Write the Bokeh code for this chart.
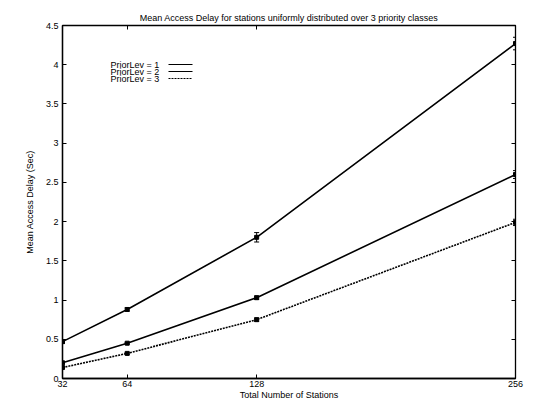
from bokeh.plotting import figure
from bokeh.models import (Range1d, FixedTicker, LinearAxis, Whisker, ColumnDataSource,
                          Label, Arrow, TeeHead)
from bokeh.embed import file_html
from bokeh.resources import INLINE

stations = [32, 64, 128, 256]
prio1 = [0.47, 0.88, 1.80, 4.27]
prio2 = [0.20, 0.45, 1.03, 2.60]
prio3 = [0.14, 0.32, 0.75, 1.99]
err1 = [0.02, 0.02, 0.06, 0.08]
err2 = [0.01, 0.01, 0.02, 0.05]
err3 = [0.01, 0.01, 0.02, 0.04]
series_labels = ["PriorLev = 1", "PriorLev = 2", "PriorLev = 3"]
y_ticks = [0, 0.5, 1, 1.5, 2, 2.5, 3, 3.5, 4, 4.5]

FONT = "Liberation Sans"

p = figure(width=549, height=407, output_backend="svg", toolbar_location=None,
           x_range=Range1d(32, 256), y_range=Range1d(0, 4.5),
           min_border_left=62, min_border_right=34, min_border_top=25, min_border_bottom=29,
           title="Mean Access Delay for stations uniformly distributed over 3 priority classes")
p.title.align = "center"
p.title.text_font = FONT
p.title.text_font_size = "9px"
p.title.text_font_style = "normal"
p.title.text_color = "black"
p.title.standoff = 5
p.title.offset = 0
p.grid.visible = False
p.outline_line_color = "black"
p.outline_line_width = 1.3
p.background_fill_color = "white"
p.border_fill_color = "white"

for ax in (p.xaxis[0], p.yaxis[0]):
    ax.major_label_text_font = FONT
    ax.major_label_text_font_size = "9px"
    ax.major_label_text_color = "black"
    ax.axis_label_text_font = FONT
    ax.axis_label_text_font_size = "9px"
    ax.axis_label_text_font_style = "normal"
    ax.axis_label_text_color = "black"
    ax.major_tick_in = 4
    ax.major_tick_out = 0
    ax.minor_tick_in = 0
    ax.minor_tick_out = 0
    ax.axis_line_color = "black"
    ax.axis_line_width = 1.3

p.xaxis.ticker = FixedTicker(ticks=stations)
p.yaxis.ticker = FixedTicker(ticks=y_ticks)
p.yaxis.major_label_overrides = {4.5: "4.5", 4: "4", 3.5: "3.5", 3: "3", 2.5: "2.5", 2: "2",
                                 1.5: "1.5", 1: "1", 0.5: "0.5", 0: "0"}
p.xaxis.axis_label = "Total Number of Stations"
p.yaxis.axis_label = "Mean Access Delay (Sec)"
p.xaxis.axis_label_standoff = 0
p.yaxis.axis_label_standoff = 8
p.xaxis.major_label_standoff = 2
p.yaxis.major_label_standoff = 4

# mirrored ticks (no labels)
top = LinearAxis(ticker=FixedTicker(ticks=stations),
                 major_label_overrides={t: "" for t in stations},
                 major_tick_in=4, major_tick_out=0, minor_tick_out=0, minor_tick_in=0,
                 axis_line_color=None)
right = LinearAxis(ticker=FixedTicker(ticks=y_ticks),
                   major_label_overrides={t: "" for t in y_ticks},
                   major_tick_in=4, major_tick_out=0, minor_tick_out=0, minor_tick_in=0,
                   axis_line_color=None)
p.add_layout(top, "above")
p.add_layout(right, "right")

series = [(prio1, err1, "solid", "square"), (prio2, err2, "solid", "square"),
          (prio3, err3, "2 1", "square")]
for vals, err, dash, mk in series:
    src = ColumnDataSource(dict(x=stations, y=vals,
                                lo=[v - e for v, e in zip(vals, err)],
                                hi=[v + e for v, e in zip(vals, err)]))
    p.line("x", "y", source=src, line_color="black", line_width=1.6, line_dash=dash)
    p.scatter("x", "y", source=src, marker=mk, size=4, color="black")
    w = Whisker(base="x", lower="lo", upper="hi", source=src, line_color="black",
                line_width=1)
    w.upper_head = TeeHead(size=5, line_color="black")
    w.lower_head = TeeHead(size=5, line_color="black")
    p.add_layout(w)

# legend: label then line sample, as in the original (screen units from frame bottom-left)
leg_x = 48
leg_y0 = 314
for i, (lab, (_, _, dash, _)) in enumerate(zip(series_labels, series)):
    y = leg_y0 - i * 7
    p.add_layout(Label(x=leg_x, y=y, x_units="screen", y_units="screen", text=lab,
                       text_font=FONT, text_font_size="9px", text_baseline="middle",
                       text_color="black"))
    p.add_layout(Arrow(x_start=leg_x + 58, y_start=y, x_end=leg_x + 82, y_end=y,
                       start_units="screen", end_units="screen", end=None,
                       line_color="black", line_width=1.1, line_dash=dash))

open("out.html", "w").write(file_html(p, INLINE))
